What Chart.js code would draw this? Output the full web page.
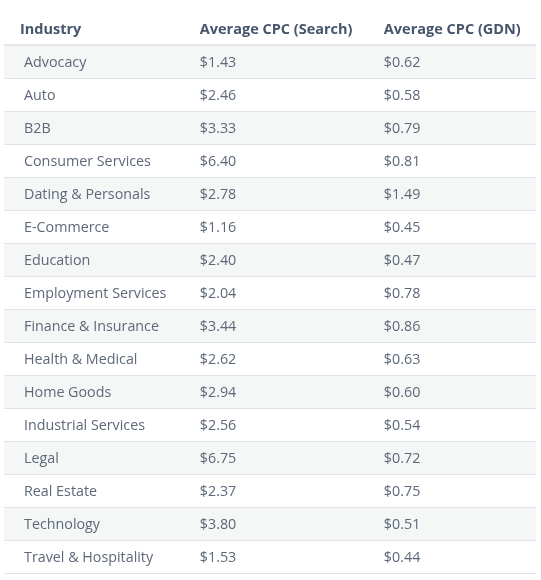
<!DOCTYPE html>
<html>
<head>
<meta charset="utf-8">
<script src="https://cdn.jsdelivr.net/npm/chart.js@4"></script>
<style>
    html, body { margin: 0; padding: 0; background: #ffffff; }
    #wrap { width: 541px; height: 580px; position: relative; }
</style>
</head>
<body>
<div id="wrap"><canvas id="cpcTable"></canvas></div>
<script>
// 表格資料
const industries = [
    "Advocacy", "Auto", "B2B", "Consumer Services", "Dating & Personals",
    "E-Commerce", "Education", "Employment Services", "Finance & Insurance",
    "Health & Medical", "Home Goods", "Industrial Services", "Legal",
    "Real Estate", "Technology", "Travel & Hospitality"
];
const searchCpc = [1.43, 2.46, 3.33, 6.40, 2.78, 1.16, 2.40, 2.04, 3.44, 2.62, 2.94, 2.56, 6.75, 2.37, 3.80, 1.53];
const gdnCpc = [0.62, 0.58, 0.79, 0.81, 1.49, 0.45, 0.47, 0.78, 0.86, 0.63, 0.60, 0.54, 0.72, 0.75, 0.51, 0.44];
const headers = ["Industry", "Average CPC (Search)", "Average CPC (GDN)"];

// 欄位在 x 軸上的位置 (0 ~ 1)
const headerCols = [0.030, 0.368, 0.714];
const bodyCols = [0.0376, 0.368, 0.714];

const FONT = '"Open Sans", "Noto Sans", sans-serif';

// 條紋列：偶數索引的列填滿整列
const stripes = industries.map((_, i) => (i % 2 === 0 ? [0, 1] : null));

const tablePlugin = {
    id: "tableText",
    afterDatasetsDraw(chart) {
        const ctx = chart.ctx;
        const xs = chart.scales.x;
        const ys = chart.scales.y;
        const rowH = Math.abs(ys.getPixelForValue(1) - ys.getPixelForValue(0));
        const left = xs.getPixelForValue(0);
        const right = xs.getPixelForValue(1);

        ctx.save();
        // 列分隔線
        ctx.strokeStyle = "#e0e3e7";
        ctx.lineWidth = 1;
        industries.forEach((_, i) => {
            const yb = Math.round(ys.getPixelForValue(i) + rowH / 2) + 0.5;
            ctx.beginPath();
            ctx.moveTo(left, yb);
            ctx.lineTo(right, yb);
            ctx.stroke();
        });
        // 表頭下方線
        const yTop = ys.getPixelForValue(0) - rowH / 2;
        ctx.strokeStyle = "#e3e6ea";
        ctx.lineWidth = 2;
        ctx.beginPath();
        ctx.moveTo(left, yTop);
        ctx.lineTo(right, yTop);
        ctx.stroke();

        // 表頭文字
        ctx.textBaseline = "middle";
        ctx.textAlign = "left";
        ctx.fillStyle = "#46556b";
        ctx.font = "bold 14.5px " + FONT;
        headers.forEach((h, c) => {
            ctx.fillText(h, xs.getPixelForValue(headerCols[c]), yTop - 15);
        });

        // 內容文字
        ctx.fillStyle = "#5d6879";
        ctx.font = "14.3px " + FONT;
        industries.forEach((name, i) => {
            const y = ys.getPixelForValue(i) + 1.5;
            ctx.fillText(name, xs.getPixelForValue(bodyCols[0]), y);
            ctx.fillText("$" + searchCpc[i].toFixed(2), xs.getPixelForValue(bodyCols[1]), y);
            ctx.fillText("$" + gdnCpc[i].toFixed(2), xs.getPixelForValue(bodyCols[2]), y);
        });
        ctx.restore();
    }
};

const ctx = document.getElementById("cpcTable").getContext("2d");
new Chart(ctx, {
    type: "bar",
    data: {
        labels: industries,
        datasets: [
            {
                data: stripes,
                backgroundColor: "#f5f7f7",
                borderWidth: 0,
                barPercentage: 1,
                categoryPercentage: 1,
            },
        ],
    },
    options: {
        indexAxis: "y",
        responsive: true,
        maintainAspectRatio: false,
        animation: false,
        layout: {
            padding: { top: 45, bottom: 7, left: 4, right: 5 },
        },
        scales: {
            x: { type: "linear", min: 0, max: 1, display: false },
            y: { type: "category", display: false },
        },
        plugins: {
            legend: { display: false },
            tooltip: { enabled: false },
        },
    },
    plugins: [tablePlugin],
});
</script>
</body>
</html>
